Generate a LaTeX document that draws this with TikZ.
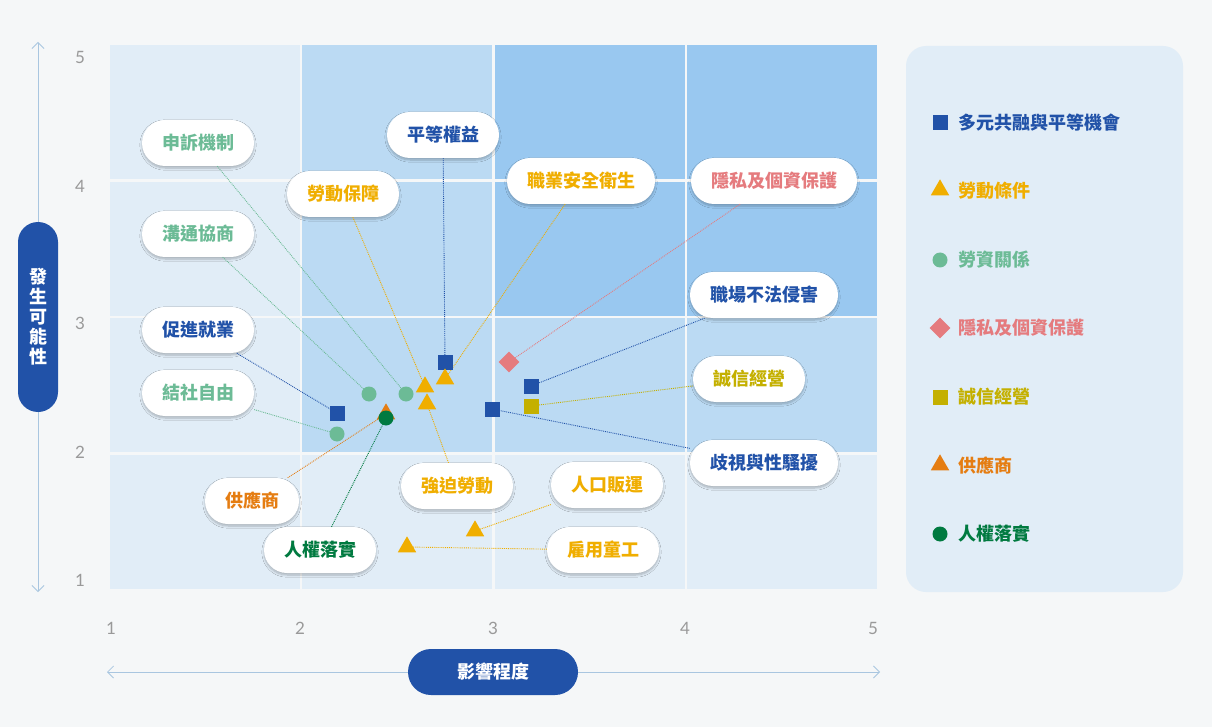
\documentclass[tikz,border=0pt]{standalone}
\usepackage{fontspec}
\setmainfont{Noto Sans CJK TC}
\newfontfamily\numfont{Lato}
\usetikzlibrary{shapes.geometric,shadows.blur,arrows.meta}
\definecolor{bgc}{HTML}{F5F7F8}
\definecolor{cellL}{HTML}{E1EDF7}
\definecolor{cellM}{HTML}{BBDAF3}
\definecolor{cellD}{HTML}{99C8F0}
\definecolor{cblue}{HTML}{2152A8}
\definecolor{cyel}{HTML}{F0AE00}
\definecolor{cgrn}{HTML}{6CBB96}
\definecolor{cdgrn}{HTML}{007A40}
\definecolor{cpink}{HTML}{E57B7E}
\definecolor{coli}{HTML}{C4B000}
\definecolor{corg}{HTML}{E57D12}
\definecolor{axc}{HTML}{A9C6E0}
\begin{document}
\begin{tikzpicture}[x=1pt,y=-1pt,
 pill/.style={draw=none,fill=white,rounded corners=23pt,minimum height=46pt,inner xsep=20pt,font=\fontsize{18}{20}\selectfont\bfseries,blur shadow={shadow blur steps=6,shadow xshift=0pt,shadow yshift=-2pt,shadow opacity=25}},
 lk/.style={densely dotted,line width=0.9pt},
 sq/.style={rectangle,minimum size=15pt,inner sep=0pt},
 tri/.style={isosceles triangle,shape border rotate=90,isosceles triangle apex angle=60,minimum size=16pt,inner sep=0pt},
 cir/.style={circle,minimum size=15pt,inner sep=0pt},
 dia/.style={diamond,minimum size=21pt,inner sep=0pt},
 tick/.style={font=\numfont\fontsize{17}{18}\selectfont,text=gray!80},
 leg/.style={anchor=west,font=\fontsize{18}{20}\selectfont\bfseries}]
\useasboundingbox[fill=bgc] (0,0) rectangle (1212,727);
% grid
\foreach \x/\y/\c in {110/45/cellL,302/45/cellM,495/45/cellD,687/45/cellD,
 110/182/cellL,302/182/cellM,495/182/cellD,687/182/cellD,
 110/318/cellL,302/318/cellM,495/318/cellM,687/318/cellM,
 110/455/cellL,302/455/cellL,495/455/cellL,687/455/cellL}
 \fill[fill=\c] (\x,\y) rectangle ++(190,134);
% axes
\draw[axc,line width=0.8pt,{Straight Barb[length=6pt]}-{Straight Barb[length=6pt]}] (38,42) -- (38,592);
\draw[axc,line width=0.8pt,{Straight Barb[length=6pt]}-{Straight Barb[length=6pt]}] (107,672) -- (880,672);
\node[fill=cblue,text=white,rounded corners=20pt,minimum width=40pt,minimum height=190pt,inner sep=0pt,font=\fontsize{18}{20}\selectfont\bfseries,align=center] (ylab) at (38,317) {發\\生\\可\\能\\性};
\node[fill=cblue,text=white,rounded corners=23pt,minimum width=170pt,minimum height=46pt,font=\fontsize{18}{20}\selectfont\bfseries] (xlab) at (493,672) {影響程度};
\foreach \v/\y in {5/57,4/186,3/323,2/452,1/580} \node[tick] (ty\v) at (80,\y) {\v};
\foreach \v/\x in {1/111,2/300,3/493,4/685,5/873} \node[tick] (tx\v) at (\x,628) {\v};
% labels
\node[pill,text=cgrn] (l1) at (198,143) {申訴機制};
\node[pill,text=cgrn] (l2) at (198,234) {溝通協商};
\node[pill,text=cblue] (l3) at (198,330) {促進就業};
\node[pill,text=cgrn] (l4) at (198,393) {結社自由};
\node[pill,text=cblue] (l5) at (443,135) {平等權益};
\node[pill,text=cyel] (l6) at (343,194) {勞動保障};
\node[pill,text=cyel] (l7) at (581,181) {職業安全衛生};
\node[pill,text=cpink] (l8) at (774,181) {隱私及個資保護};
\node[pill,text=cblue] (l9) at (764,295) {職場不法侵害};
\node[pill,text=coli] (l10) at (749,379) {誠信經營};
\node[pill,text=cblue] (l11) at (764,463) {歧視與性騷擾};
\node[pill,text=cyel] (l12) at (457,486) {強迫勞動};
\node[pill,text=cyel] (l13) at (607,485) {人口販運};
\node[pill,text=cyel] (l14) at (603,550) {雇用童工};
\node[pill,text=corg] (l15) at (252,501) {供應商};
\node[pill,text=cdgrn] (l16) at (320,550) {人權落實};
% marker anchors (coordinates for links)
\foreach \n/\x/\y in {m1/337/413,m2/445/362,m3/492/409,m4/531/386,m5/425/387,m6/445/379,m7/427/404,m8/475/531,m9/407/547,m10/369/394,m11/406/394,m12/337/434,m13/386/418,m14/509/362,m15/531/406,m18/386/414}
 \coordinate (\n) at (\x,\y);
% links
\draw[lk,cgrn] (l1) -- (m11);
\draw[lk,cgrn] (l2) -- (m10);
\draw[lk,cblue] (l3) -- (m1);
\draw[lk,cgrn] (l4) -- (m12);
\draw[lk,cblue] (l5) -- (m2);
\draw[lk,cyel] (l6) -- (m5);
\draw[lk,cyel] (l7) -- (m6);
\draw[lk,cpink] (l8) -- (m14);
\draw[lk,cblue] (l9) -- (m4);
\draw[lk,coli] (l10) -- (m15);
\draw[lk,cblue] (l11) -- (m3);
\draw[lk,cyel] (l12) -- (m7);
\draw[lk,cyel] (l13) -- (m8);
\draw[lk,cyel] (l14) -- (m9);
\draw[lk,corg] (l15) -- (m18);
\draw[lk,cdgrn] (l16) -- (m13);
% markers
\node[tri,fill=corg] (p18) at (m18) {};
\node[sq,fill=cblue] (p1) at (m1) {};
\node[sq,fill=cblue] (p2) at (m2) {};
\node[sq,fill=cblue] (p3) at (m3) {};
\node[sq,fill=cblue] (p4) at (m4) {};
\node[tri,fill=cyel] (p5) at (m5) {};
\node[tri,fill=cyel] (p6) at (m6) {};
\node[tri,fill=cyel] (p7) at (m7) {};
\node[tri,fill=cyel] (p8) at (m8) {};
\node[tri,fill=cyel] (p9) at (m9) {};
\node[cir,fill=cgrn] (p10) at (m10) {};
\node[cir,fill=cgrn] (p11) at (m11) {};
\node[cir,fill=cgrn] (p12) at (m12) {};
\node[cir,fill=cdgrn] (p13) at (m13) {};
\node[dia,fill=cpink] (p14) at (m14) {};
\node[sq,fill=coli] (p15) at (m15) {};
% legend
\node[fill=cellL,rounded corners=20pt,minimum width=277pt,minimum height=546pt] (legbox) at (1044.5,319) {};
\node[sq,fill=cblue] (g1) at (940,123) {};
\node[leg,text=cblue] (t1) at (955,123) {多元共融與平等機會};
\node[tri,fill=cyel] (g2) at (940,190) {};
\node[leg,text=cyel] (t2) at (955,191) {勞動條件};
\node[cir,fill=cgrn] (g3) at (940,260) {};
\node[leg,text=cgrn] (t3) at (955,260) {勞資關係};
\node[dia,fill=cpink] (g4) at (940,328) {};
\node[leg,text=cpink] (t4) at (955,328) {隱私及個資保護};
\node[sq,fill=coli] (g5) at (940,397) {};
\node[leg,text=coli] (t5) at (955,397) {誠信經營};
\node[tri,fill=corg] (g6) at (940,465) {};
\node[leg,text=corg] (t6) at (955,466) {供應商};
\node[cir,fill=cdgrn] (g7) at (940,534) {};
\node[leg,text=cdgrn] (t7) at (955,534) {人權落實};
\end{tikzpicture}
\end{document}
